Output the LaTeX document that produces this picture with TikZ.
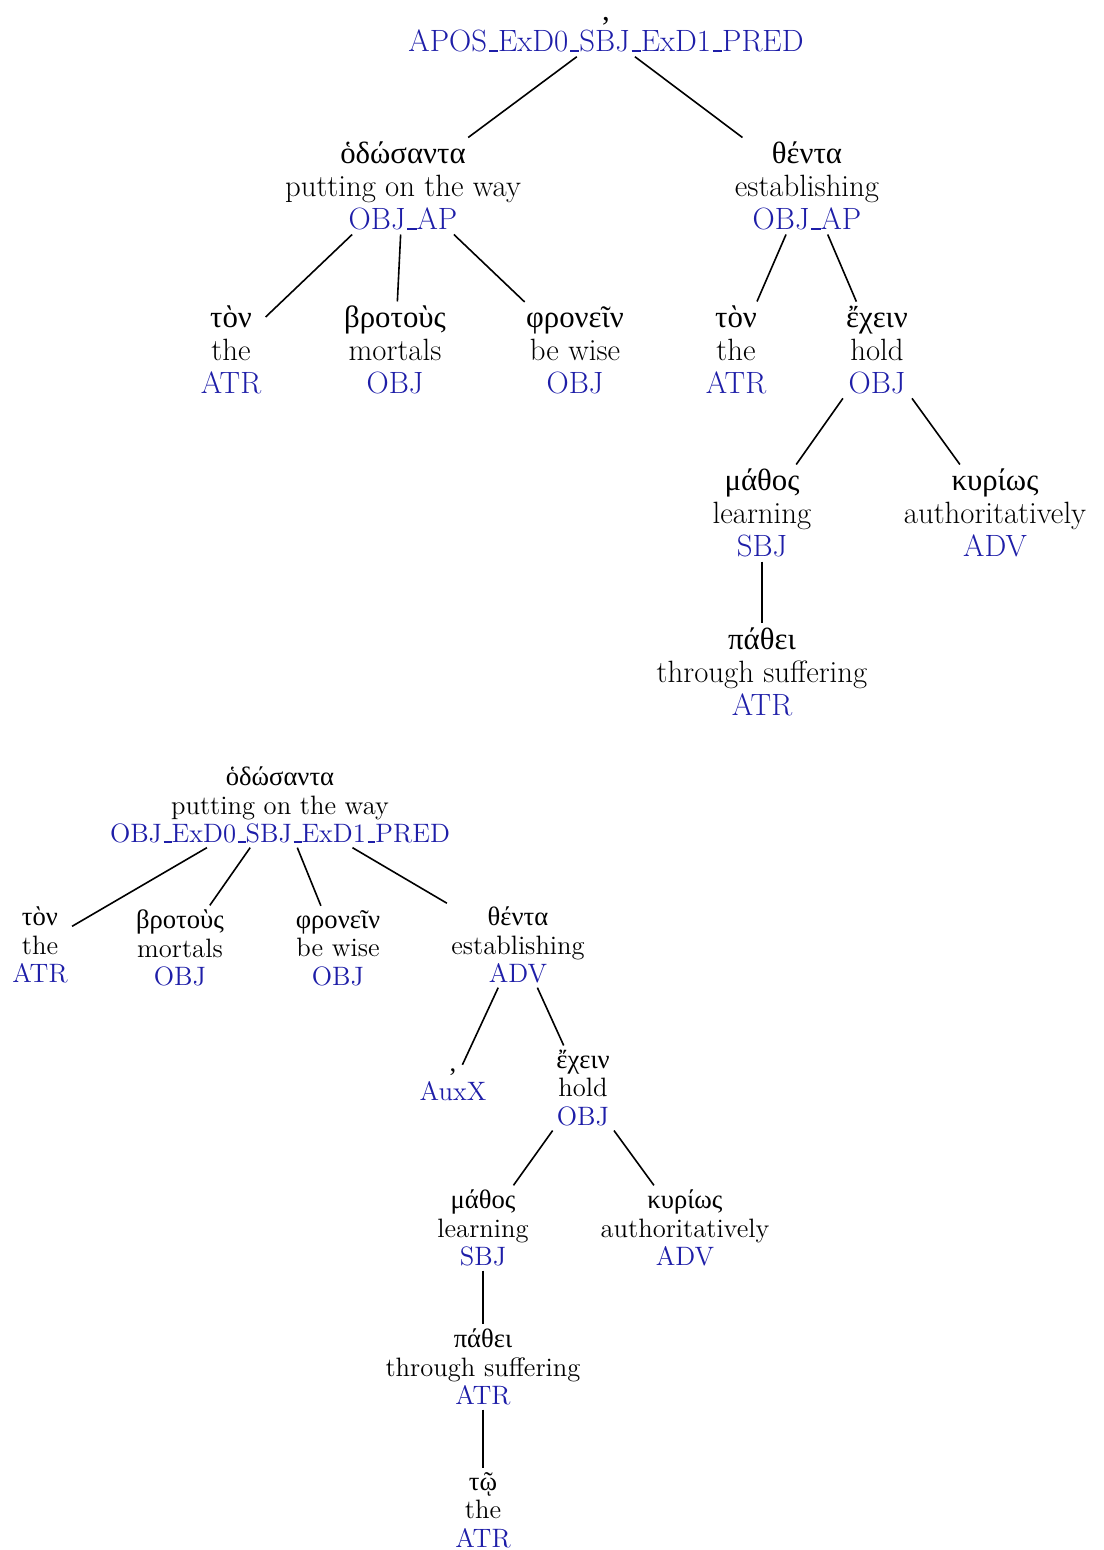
\documentclass[tikz,border=0pt]{standalone}
\usepackage{fontspec}
\newfontfamily\grk[Script=Greek]{Liberation Serif}
\definecolor{lbl}{RGB}{30,30,168}
\newcommand\tlab[1]{\textcolor{lbl}{#1}}
\newcommand\us{\leavevmode\kern.06em\vbox{\hrule width.3em height 0.05em}}
\tikzset{
  tnode/.style={align=center, inner sep=2pt, font=\fontsize{15.4}{16.5}\selectfont},
  snode/.style={align=center, inner sep=2pt, font=\fontsize{13.3}{14.3}\selectfont},
  edge/.style={line width=0.8pt, black}
}
\begin{document}
\begin{tikzpicture}[x=0.5pt,y=-0.5pt]
\useasboundingbox (0,0) rectangle (1103,1550);
% top tree
\node[tnode] (r) at (606,35) {{\grk ,}\\[-1pt]\tlab{APOS\us ExD0\us SBJ\us ExD1\us PRED}};
\node[tnode] (a) at (403,186) {{\grk ὁδώσαντα}\\putting on the way\\\tlab{OBJ\us AP}};
\node[tnode] (b) at (807,186) {{\grk θέντα}\\establishing\\\tlab{OBJ\us AP}};
\node[tnode] (a1) at (231,350) {{\grk τὸν}\\the\\\tlab{ATR}};
\node[tnode] (a2) at (395,350) {{\grk βροτοὺς}\\mortals\\\tlab{OBJ}};
\node[tnode] (a3) at (575,350) {{\grk φρονεῖν}\\be wise\\\tlab{OBJ}};
\node[tnode] (b1) at (736,350) {{\grk τὸν}\\the\\\tlab{ATR}};
\node[tnode] (b2) at (877,350) {{\grk ἔχειν}\\hold\\\tlab{OBJ}};
\node[tnode] (c1) at (762,513) {{\grk μάθος}\\learning\\\tlab{SBJ}};
\node[tnode] (c2) at (995,513) {{\grk κυρίως}\\authoritatively\\\tlab{ADV}};
\node[tnode] (d1) at (762,672) {{\grk πάθει}\\through suffering\\\tlab{ATR}};
\draw[edge] (r) -- (a);
\draw[edge] (r) -- (b);
\draw[edge] (a) -- (a1);
\draw[edge] (a) -- (a2);
\draw[edge] (a) -- (a3);
\draw[edge] (b) -- (b1);
\draw[edge] (b) -- (b2);
\draw[edge] (b2) -- (c1);
\draw[edge] (b2) -- (c2);
\draw[edge] (c1) -- (d1);
% bottom tree
\node[snode] (p) at (280,805) {{\grk ὁδώσαντα}\\putting on the way\\\tlab{OBJ\us ExD0\us SBJ\us ExD1\us PRED}};
\node[snode] (q1) at (40,945) {{\grk τὸν}\\the\\\tlab{ATR}};
\node[snode] (q2) at (180,948) {{\grk βροτοὺς}\\mortals\\\tlab{OBJ}};
\node[snode] (q3) at (338,948) {{\grk φρονεῖν}\\be wise\\\tlab{OBJ}};
\node[snode] (q4) at (518,945) {{\grk θέντα}\\establishing\\\tlab{ADV}};
\node[snode] (r1) at (453,1085) {{\grk ,}\\\tlab{AuxX}};
\node[snode] (r2) at (583,1088) {{\grk ἔχειν}\\hold\\\tlab{OBJ}};
\node[snode] (s1) at (483,1228) {{\grk μάθος}\\learning\\\tlab{SBJ}};
\node[snode] (s2) at (685,1228) {{\grk κυρίως}\\authoritatively\\\tlab{ADV}};
\node[snode] (t1) at (483,1367) {{\grk πάθει}\\through suffering\\\tlab{ATR}};
\node[snode] (u1) at (483,1510) {{\grk τῷ}\\the\\\tlab{ATR}};
\draw[edge] (p) -- (q1);
\draw[edge] (p) -- (q2);
\draw[edge] (p) -- (q3);
\draw[edge] (p) -- (q4);
\draw[edge] (q4) -- (r1);
\draw[edge] (q4) -- (r2);
\draw[edge] (r2) -- (s1);
\draw[edge] (r2) -- (s2);
\draw[edge] (s1) -- (t1);
\draw[edge] (t1) -- (u1);
\end{tikzpicture}
\end{document}
